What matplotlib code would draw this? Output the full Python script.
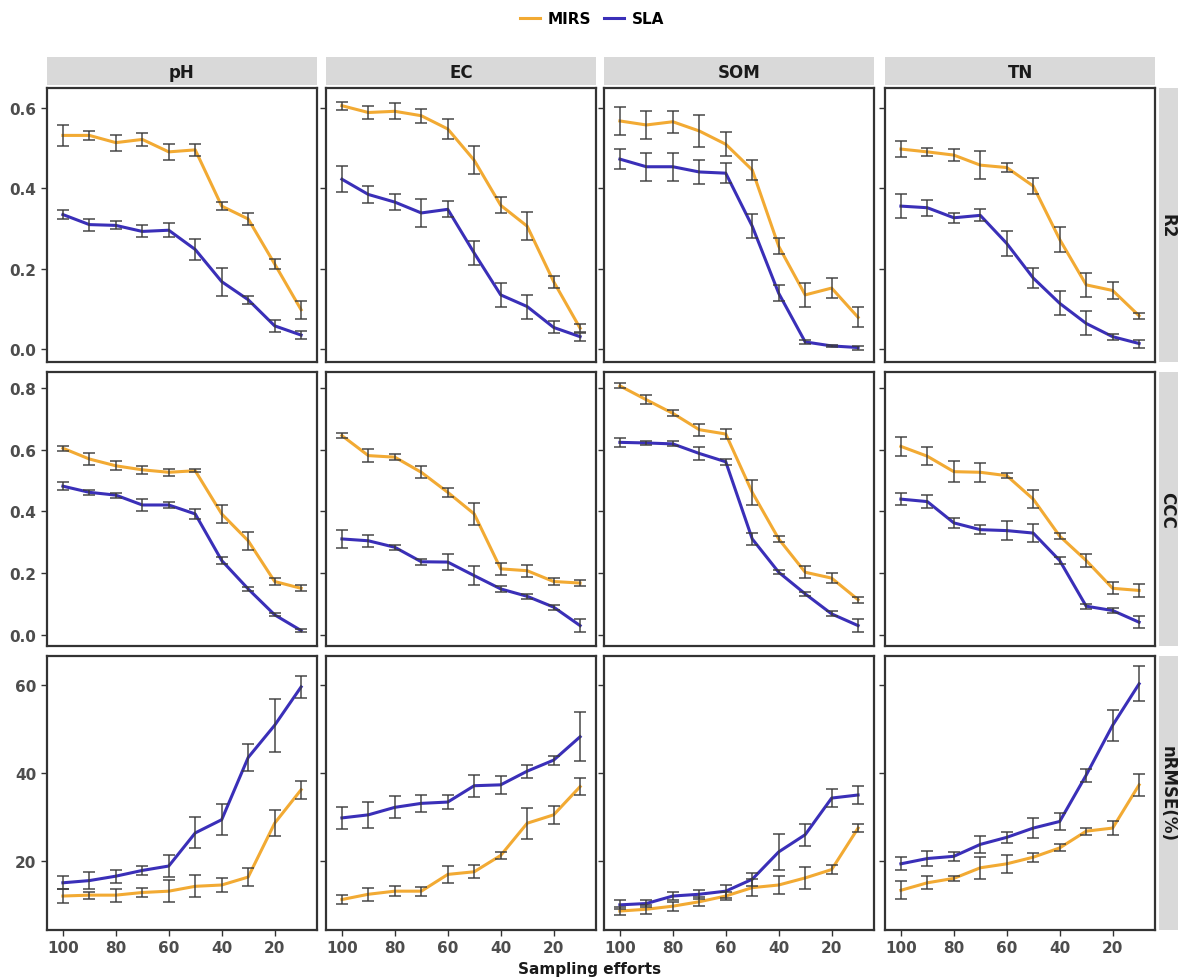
import numpy as np
import matplotlib.pyplot as plt
from matplotlib.lines import Line2D

efforts = [100, 90, 80, 70, 60, 50, 40, 30, 20, 10]
properties = ["pH", "EC", "SOM", "TN"]
metrics = ["R2", "CCC", "nRMSE(%)"]

# R2
r2_mirs = {
    "pH":  [0.532, 0.532, 0.514, 0.522, 0.491, 0.496, 0.356, 0.324, 0.212, 0.098],
    "EC":  [0.606, 0.589, 0.592, 0.581, 0.548, 0.470, 0.358, 0.306, 0.168, 0.052],
    "SOM": [0.568, 0.558, 0.566, 0.543, 0.510, 0.446, 0.256, 0.135, 0.152, 0.079],
    "TN":  [0.498, 0.491, 0.483, 0.458, 0.452, 0.406, 0.273, 0.160, 0.146, 0.083],
}
r2_mirs_se = {
    "pH":  [0.027, 0.012, 0.020, 0.017, 0.020, 0.015, 0.010, 0.015, 0.012, 0.022],
    "EC":  [0.010, 0.015, 0.020, 0.017, 0.025, 0.035, 0.020, 0.035, 0.015, 0.010],
    "SOM": [0.035, 0.035, 0.027, 0.040, 0.030, 0.025, 0.020, 0.030, 0.025, 0.025],
    "TN":  [0.020, 0.010, 0.015, 0.035, 0.012, 0.020, 0.030, 0.030, 0.020, 0.008],
}
r2_sla = {
    "pH":  [0.335, 0.310, 0.308, 0.293, 0.296, 0.248, 0.168, 0.123, 0.058, 0.035],
    "EC":  [0.423, 0.385, 0.366, 0.339, 0.348, 0.239, 0.135, 0.106, 0.054, 0.031],
    "SOM": [0.473, 0.454, 0.454, 0.441, 0.438, 0.306, 0.139, 0.018, 0.008, 0.004],
    "TN":  [0.356, 0.352, 0.327, 0.333, 0.263, 0.177, 0.114, 0.064, 0.031, 0.014],
}
r2_sla_se = {
    "pH":  [0.012, 0.015, 0.010, 0.015, 0.017, 0.025, 0.035, 0.010, 0.015, 0.010],
    "EC":  [0.033, 0.020, 0.020, 0.035, 0.020, 0.030, 0.030, 0.030, 0.015, 0.010],
    "SOM": [0.025, 0.035, 0.035, 0.030, 0.025, 0.030, 0.020, 0.005, 0.003, 0.005],
    "TN":  [0.030, 0.020, 0.012, 0.015, 0.030, 0.025, 0.030, 0.030, 0.007, 0.010],
}

# CCC
ccc_mirs = {
    "pH":  [0.605, 0.570, 0.548, 0.535, 0.527, 0.532, 0.392, 0.305, 0.173, 0.151],
    "EC":  [0.646, 0.581, 0.576, 0.527, 0.462, 0.392, 0.214, 0.208, 0.173, 0.168],
    "SOM": [0.807, 0.762, 0.718, 0.665, 0.651, 0.462, 0.311, 0.203, 0.184, 0.114],
    "TN":  [0.611, 0.579, 0.529, 0.527, 0.516, 0.440, 0.320, 0.241, 0.151, 0.144],
}
ccc_mirs_se = {
    "pH":  [0.008, 0.020, 0.015, 0.012, 0.012, 0.005, 0.030, 0.030, 0.010, 0.010],
    "EC":  [0.008, 0.020, 0.010, 0.020, 0.015, 0.035, 0.020, 0.020, 0.012, 0.010],
    "SOM": [0.008, 0.015, 0.010, 0.020, 0.015, 0.040, 0.010, 0.020, 0.015, 0.010],
    "TN":  [0.030, 0.030, 0.035, 0.030, 0.008, 0.030, 0.010, 0.020, 0.020, 0.020],
}
ccc_sla = {
    "pH":  [0.482, 0.462, 0.453, 0.421, 0.421, 0.392, 0.241, 0.149, 0.065, 0.014],
    "EC":  [0.311, 0.305, 0.284, 0.237, 0.236, 0.192, 0.149, 0.125, 0.090, 0.030],
    "SOM": [0.624, 0.622, 0.619, 0.588, 0.561, 0.311, 0.203, 0.133, 0.068, 0.030],
    "TN":  [0.440, 0.432, 0.363, 0.341, 0.338, 0.330, 0.241, 0.093, 0.079, 0.041],
}
ccc_sla_se = {
    "pH":  [0.012, 0.008, 0.008, 0.020, 0.010, 0.015, 0.012, 0.006, 0.005, 0.005],
    "EC":  [0.030, 0.020, 0.008, 0.010, 0.025, 0.030, 0.010, 0.008, 0.008, 0.020],
    "SOM": [0.015, 0.008, 0.008, 0.020, 0.010, 0.020, 0.006, 0.006, 0.008, 0.020],
    "TN":  [0.020, 0.020, 0.015, 0.015, 0.030, 0.030, 0.010, 0.008, 0.008, 0.020],
}

# nRMSE (%)
nrmse_mirs = {
    "pH":  [12.1, 12.3, 12.3, 12.9, 13.2, 14.3, 14.6, 16.4, 28.6, 36.2],
    "EC":  [11.3, 12.5, 13.2, 13.2, 17.0, 17.6, 21.3, 28.6, 30.5, 36.9],
    "SOM": [8.7, 9.1, 9.8, 10.8, 12.1, 14.0, 14.6, 16.2, 18.1, 27.5],
    "TN":  [13.4, 15.1, 16.1, 18.5, 19.4, 20.9, 23.0, 26.8, 27.5, 37.3],
}
nrmse_mirs_se = {
    "pH":  [1.5, 0.8, 1.5, 1.0, 2.5, 2.5, 1.5, 2.0, 3.0, 2.0],
    "EC":  [1.0, 1.5, 1.2, 1.0, 2.0, 1.5, 0.8, 3.5, 2.0, 2.0],
    "SOM": [1.0, 1.0, 1.0, 1.0, 1.0, 2.0, 2.0, 2.5, 1.0, 1.0],
    "TN":  [2.0, 1.5, 0.5, 2.5, 2.0, 1.0, 0.8, 0.8, 1.5, 2.5],
}
nrmse_sla = {
    "pH":  [15.1, 15.6, 16.6, 17.9, 18.9, 26.4, 29.4, 43.5, 50.8, 59.5],
    "EC":  [29.8, 30.5, 32.2, 33.1, 33.4, 37.1, 37.3, 40.4, 42.9, 48.2],
    "SOM": [10.1, 10.4, 12.1, 12.5, 13.2, 15.9, 22.1, 26.0, 34.3, 35.0],
    "TN":  [19.4, 20.6, 21.1, 23.8, 25.4, 27.5, 29.0, 39.5, 50.8, 60.2],
}
nrmse_sla_se = {
    "pH":  [1.5, 2.0, 1.5, 1.0, 2.5, 3.5, 3.5, 3.0, 6.0, 2.5],
    "EC":  [2.5, 3.0, 2.5, 2.0, 1.5, 2.5, 2.0, 1.5, 1.0, 5.5],
    "SOM": [1.0, 0.8, 1.0, 1.0, 1.5, 1.5, 4.0, 2.5, 2.0, 2.0],
    "TN":  [1.5, 1.8, 1.0, 2.0, 1.2, 2.2, 2.0, 1.5, 3.5, 4.0],
}

rows = [
    (r2_mirs, r2_mirs_se, r2_sla, r2_sla_se, [0.0, 0.2, 0.4, 0.6], (-0.032, 0.65), "{:.1f}"),
    (ccc_mirs, ccc_mirs_se, ccc_sla, ccc_sla_se, [0.0, 0.2, 0.4, 0.6, 0.8], (-0.036, 0.852), "{:.1f}"),
    (nrmse_mirs, nrmse_mirs_se, nrmse_sla, nrmse_sla_se, [20, 40, 60], (4.4, 66.5), "{:.0f}"),
]

c_mirs = "#F2AA33"
c_sla = "#3A2FB8"
txt_grey = "#4D4D4D"

W, H = 1178, 979
fig = plt.figure(figsize=(W / 100, H / 100), dpi=100)
plt.rcParams["font.family"] = "DejaVu Sans"

col_left = [47, 326, 604, 885]
col_w = 270
row_top = [89, 373, 657]
row_h = 274


def px_box(x0, y0, w, h):
    return [x0 / W, 1 - (y0 + h) / H, w / W, h / H]


for r, (m_mirs, s_mirs, m_sla, s_sla, yticks, ylim, fmt) in enumerate(rows):
    for c, prop in enumerate(properties):
        ax = fig.add_axes(px_box(col_left[c], row_top[r], col_w, row_h))
        for means, errs, col in [(m_mirs, s_mirs, c_mirs), (m_sla, s_sla, c_sla)]:
            ax.plot(efforts, means[prop], color=col, lw=2.2, zorder=2)
            ax.errorbar(efforts, means[prop], yerr=errs[prop], fmt="none",
                        ecolor="#3a3a3a", elinewidth=1.2, capsize=4,
                        capthick=1.2, alpha=0.85, zorder=3)
        ax.set_xlim(106, 4)
        ax.set_ylim(*ylim)
        ax.set_xticks([100, 80, 60, 40, 20])
        ax.set_yticks(yticks)
        for sp in ax.spines.values():
            sp.set_color("#333333")
            sp.set_linewidth(1.6)
        ax.tick_params(length=4, width=1, color="#333333", labelsize=11,
                       labelcolor=txt_grey)
        if c == 0:
            ax.set_yticklabels([fmt.format(v) for v in yticks], fontweight="bold")
        else:
            ax.set_yticklabels([])
        if r == 2:
            ax.set_xticklabels(["100", "80", "60", "40", "20"], fontweight="bold")
        else:
            ax.tick_params(axis="x", length=0)
            ax.set_xticklabels([])

        # top strips with property names
        if r == 0:
            sax = fig.add_axes(px_box(col_left[c], 58, col_w, 28))
            sax.set_facecolor("#D9D9D9")
            sax.set_xticks([])
            sax.set_yticks([])
            for sp in sax.spines.values():
                sp.set_visible(False)
            sax.text(0.5, 0.48, prop, ha="center", va="center", fontsize=12,
                     fontweight="bold", color="#1a1a1a", transform=sax.transAxes)

    # right strips with metric names
    rax = fig.add_axes(px_box(1159, row_top[r], 19, row_h))
    rax.set_facecolor("#D9D9D9")
    rax.set_xticks([])
    rax.set_yticks([])
    for sp in rax.spines.values():
        sp.set_visible(False)
    rax.text(0.45, 0.5, metrics[r], ha="center", va="center", rotation=-90,
             fontsize=12, fontweight="bold", color="#1a1a1a",
             transform=rax.transAxes)

fig.text(590 / W, 1 - 970 / H, "Sampling efforts", ha="center", va="center",
         fontsize=11, fontweight="bold", color="#1a1a1a")

handles = [Line2D([0], [0], color=c_mirs, lw=2.2),
           Line2D([0], [0], color=c_sla, lw=2.2)]
fig.legend(handles, ["MIRS", "SLA"], loc="center", ncol=2,
           bbox_to_anchor=(592 / W, 1 - 20 / H), frameon=False,
           prop={"weight": "bold", "size": 11}, handlelength=1.3,
           columnspacing=0.9, handletextpad=0.5)

fig.savefig("out.png", dpi=100, facecolor="white")
